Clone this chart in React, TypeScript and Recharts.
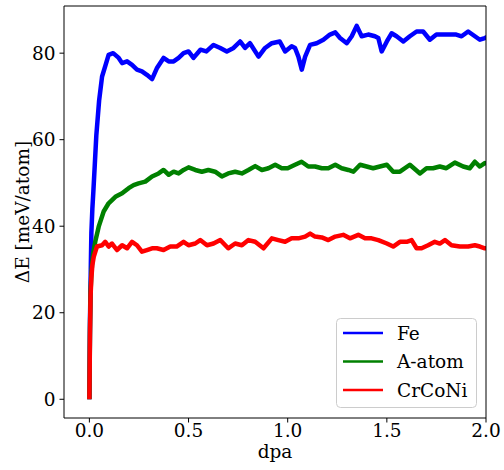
import React from "react";
import {
  LineChart,
  Line,
  XAxis,
  YAxis,
  Legend,
  ReferenceLine,
} from "recharts";

// dpa / ΔE [meV/atom]
const feDpa = [0, 0.003, 0.007, 0.01, 0.015, 0.02, 0.027, 0.035, 0.049, 0.064, 0.08, 0.097, 0.12, 0.148, 0.165, 0.19, 0.215, 0.24, 0.265, 0.29, 0.316, 0.34, 0.374, 0.4, 0.425, 0.45, 0.475, 0.5, 0.525, 0.56, 0.59, 0.626, 0.66, 0.693, 0.727, 0.76, 0.785, 0.81, 0.853, 0.886, 0.92, 0.96, 0.987, 1.02, 1.037, 1.054, 1.071, 1.088, 1.113, 1.146, 1.18, 1.213, 1.24, 1.264, 1.298, 1.323, 1.348, 1.373, 1.406, 1.44, 1.457, 1.474, 1.5, 1.524, 1.549, 1.583, 1.616, 1.65, 1.683, 1.717, 1.75, 1.784, 1.818, 1.85, 1.877, 1.91, 1.944, 1.969, 1.994, 2.02];
const feDE = [0, 18, 30, 38.4, 44, 48, 54, 61, 69, 74.6, 77, 79.6, 80, 78.9, 77.7, 78.1, 77.3, 76.2, 75.8, 75, 74, 76.5, 78.9, 78.1, 78.1, 78.9, 80, 80.4, 78.9, 80.8, 80.4, 81.9, 81.2, 80.4, 81.2, 82.7, 81.2, 82.3, 79.2, 81.2, 82.3, 82.7, 80.4, 81.6, 81.2, 79.2, 76.2, 79.2, 81.9, 82.3, 83.1, 84.3, 84.8, 83.5, 82.3, 83.9, 86.3, 83.9, 84.3, 83.9, 83.5, 80.4, 82.7, 84.6, 83.9, 82.7, 83.9, 85, 85, 83.1, 84.3, 84.3, 84.3, 84.3, 83.9, 85, 83.9, 83.1, 83.5, 84];

const aDpa = [0, 0.003, 0.006, 0.01, 0.015, 0.02, 0.03, 0.047, 0.072, 0.097, 0.131, 0.165, 0.198, 0.223, 0.248, 0.282, 0.316, 0.349, 0.374, 0.4, 0.425, 0.45, 0.475, 0.5, 0.534, 0.567, 0.6, 0.634, 0.668, 0.7, 0.735, 0.769, 0.802, 0.836, 0.87, 0.903, 0.937, 0.97, 1.0, 1.037, 1.07, 1.104, 1.138, 1.172, 1.205, 1.24, 1.272, 1.306, 1.331, 1.365, 1.398, 1.431, 1.465, 1.5, 1.532, 1.566, 1.616, 1.667, 1.7, 1.733, 1.767, 1.8, 1.843, 1.885, 1.918, 1.944, 1.969, 1.994, 2.02];
const aDE = [0, 16, 25, 29, 32, 34, 36.5, 39.9, 43.4, 45.3, 46.8, 47.6, 48.8, 49.5, 49.9, 50.3, 51.5, 52.2, 53, 51.9, 52.6, 52.2, 53, 53.6, 53, 52.6, 53, 52.6, 51.5, 52.2, 52.6, 52.2, 53, 53.9, 53, 53.4, 54.2, 53.4, 53.4, 54.2, 54.9, 53.8, 53.8, 53.4, 53.4, 54.2, 53.4, 53, 52.6, 54.2, 53.8, 53.4, 53.8, 54.2, 52.6, 52.6, 54.2, 52.2, 53.4, 53.4, 53.8, 53.4, 54.7, 53.8, 53.4, 54.9, 53.8, 54.6, 54.5];

const crDpa = [0, 0.003, 0.006, 0.01, 0.015, 0.022, 0.038, 0.064, 0.08, 0.097, 0.114, 0.139, 0.165, 0.19, 0.215, 0.24, 0.265, 0.29, 0.316, 0.34, 0.374, 0.408, 0.44, 0.475, 0.5, 0.534, 0.559, 0.593, 0.626, 0.66, 0.7, 0.735, 0.769, 0.802, 0.836, 0.878, 0.92, 0.953, 0.987, 1.02, 1.054, 1.088, 1.113, 1.138, 1.172, 1.205, 1.24, 1.28, 1.314, 1.356, 1.39, 1.423, 1.457, 1.5, 1.532, 1.566, 1.6, 1.625, 1.65, 1.675, 1.708, 1.742, 1.767, 1.793, 1.826, 1.868, 1.91, 1.944, 1.969, 1.994, 2.02];
const crDE = [0, 15, 24, 28, 31, 32.9, 35.3, 35.6, 36.4, 35.3, 36, 34.5, 35.6, 34.9, 36.4, 35.6, 34.1, 34.5, 34.9, 34.9, 34.5, 35.3, 35.3, 36.4, 35.6, 36, 36.8, 35.6, 36, 36.8, 34.9, 36, 35.6, 36.8, 36.4, 34.9, 37.2, 36.8, 36.4, 37.2, 37.2, 37.6, 38.3, 37.6, 37.4, 36.8, 37.6, 38, 37.2, 38, 37.2, 37.2, 36.8, 36, 35.3, 36.4, 36.4, 36.8, 34.9, 34.9, 35.6, 36.4, 36, 36.8, 35.6, 35.3, 35.3, 35.6, 35.3, 34.9, 35];

const xTicks = [0, 0.5, 1.0, 1.5, 2.0];
const yTicks = [0, 20, 40, 60, 80];

const toPoints = (xs: number[], ys: number[]) => xs.map((x, i) => ({ x, y: ys[i] }));

const series = [
  { name: "Fe", color: "#0000ff", data: toPoints(feDpa, feDE) },
  { name: "A-atom", color: "#008000", data: toPoints(aDpa, aDE) },
  { name: "CrCoNi", color: "#ff0000", data: toPoints(crDpa, crDE) },
];

const FONT = "DejaVu Serif";
const xDomain = [-0.128, 2.0];
const yDomain = [-4.33, 90.9];

// matplotlib-style legend frame, drawn as svg so it uses the same font as the axes
function LegendBox() {
  return (
    <svg width={141} height={90} style={{ display: "block" }}>
      <rect x={0.5} y={0.5} width={140} height={89} rx={4} fill="#fff" fillOpacity={0.8} stroke="#cccccc" />
      {series.map((s, i) => {
        const cy = 15 + i * 28.5;
        return (
          <g key={s.name}>
            <line x1={7} y1={cy} x2={47} y2={cy} stroke={s.color} strokeWidth={2.5} />
            <text x={61} y={cy} dy="0.36em" fontFamily={FONT} fontSize={18.5} fill="#000">
              {s.name}
            </text>
          </g>
        );
      })}
    </svg>
  );
}

export default function App() {
  return (
    <div style={{ position: "absolute", left: 0, top: 0, background: "#fff" }}>
      <LineChart width={504} height={470} margin={{ top: 6, right: 18, left: 0, bottom: 0 }}>
        <XAxis
          dataKey="x"
          type="number"
          domain={xDomain}
          allowDataOverflow
          ticks={xTicks}
          tickFormatter={(v: number) => v.toFixed(1)}
          height={52}
          tickSize={4.5}
          tickMargin={1}
          stroke="#000"
          tick={{ fill: "#000", fontSize: 18.5, fontFamily: FONT }}
          label={{ value: "dpa", position: "insideBottom", offset: 12, fill: "#000", fontSize: 18.5, fontFamily: FONT }}
        />
        <YAxis
          type="number"
          domain={yDomain}
          allowDataOverflow
          ticks={yTicks}
          width={64}
          tickSize={4.5}
          tickMargin={4}
          stroke="#000"
          tick={{ fill: "#000", fontSize: 18.5, fontFamily: FONT }}
          label={{ value: "ΔE [meV/atom]", angle: -90, position: "center", dx: -10, fill: "#000", fontSize: 18.5, fontFamily: FONT }}
        />
        {series.map((s) => (
          <Line
            key={s.name}
            data={s.data}
            dataKey="y"
            name={s.name}
            type="linear"
            stroke={s.color}
            strokeWidth={4.5}
            strokeLinejoin="round"
            dot={false}
            isAnimationActive={false}
          />
        ))}
        <ReferenceLine y={yDomain[1]} stroke="#000" strokeWidth={1} ifOverflow="visible" />
        <ReferenceLine x={xDomain[1]} stroke="#000" strokeWidth={1} ifOverflow="visible" />
        <Legend
          layout="vertical"
          align="center"
          verticalAlign="middle"
          content={() => <LegendBox />}
          wrapperStyle={{ left: 336, top: 318, width: 141, height: 90 }}
        />
      </LineChart>
    </div>
  );
}
